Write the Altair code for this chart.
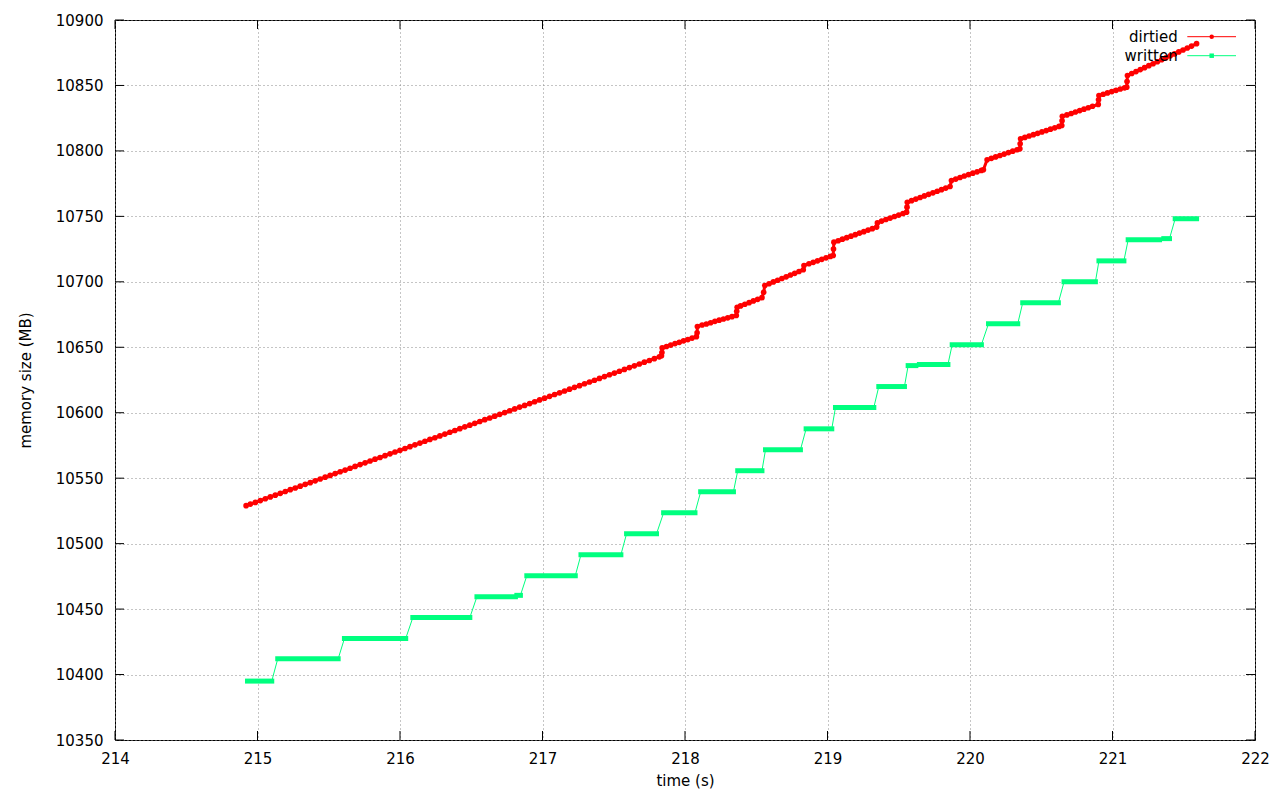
import altair as alt
import pandas as pd

RED = "#ff0000"
GREEN = "#00ff7f"
FONT = "DejaVu Sans"

# ---- dirtied series (time s, memory MB) ----
dirtied_t = [
    214.92, 214.95, 214.985, 215.02, 215.055, 215.09, 215.125, 215.16, 215.195, 215.23,
    215.265, 215.30, 215.335, 215.37, 215.405, 215.44, 215.475, 215.51, 215.545, 215.58,
    215.615, 215.65, 215.685, 215.72, 215.755, 215.79, 215.825, 215.86, 215.895, 215.93,
    215.965, 216.00, 216.035, 216.07, 216.105, 216.14, 216.175, 216.21, 216.245, 216.28,
    216.315, 216.35, 216.385, 216.42, 216.455, 216.49, 216.525, 216.56, 216.595, 216.63,
    216.665, 216.70, 216.735, 216.77, 216.805, 216.84, 216.875, 216.91, 216.945, 216.98,
    217.015, 217.05, 217.085, 217.12, 217.155, 217.19, 217.225, 217.26, 217.295, 217.33,
    217.365, 217.40, 217.435, 217.47, 217.505, 217.54, 217.575, 217.61, 217.645, 217.68,
    217.715, 217.75, 217.785, 217.82,
    217.835, 217.838, 217.84, 217.87, 217.90, 217.93, 217.96, 217.99, 218.02, 218.05, 218.08,
    218.085, 218.087, 218.12, 218.15, 218.18, 218.21, 218.24, 218.27, 218.30, 218.33, 218.36,
    218.363, 218.366, 218.39, 218.42, 218.45, 218.48, 218.51, 218.54,
    218.552, 218.56, 218.59, 218.62, 218.65, 218.68, 218.71, 218.74, 218.77, 218.80, 218.83,
    218.835, 218.87, 218.90, 218.93, 218.96, 218.99, 219.02, 219.04,
    219.042, 219.045, 219.075, 219.105, 219.135, 219.165, 219.195, 219.225, 219.255, 219.285,
    219.315, 219.345,
    219.35, 219.38, 219.41, 219.44, 219.47, 219.50, 219.53, 219.555,
    219.558, 219.56, 219.59, 219.62, 219.65, 219.68, 219.71, 219.74, 219.77, 219.80, 219.83, 219.86,
    219.87, 219.90, 219.93, 219.96, 219.99, 220.02, 220.05, 220.08, 220.094,
    220.12, 220.15, 220.18, 220.21, 220.24, 220.27, 220.30, 220.33, 220.35,
    220.352, 220.355, 220.385, 220.415, 220.445, 220.475, 220.505, 220.535, 220.565, 220.595,
    220.625, 220.644,
    220.646, 220.648, 220.68, 220.71, 220.74, 220.77, 220.80, 220.83, 220.86, 220.90,
    220.902, 220.905, 220.935, 220.965, 220.995, 221.025, 221.055, 221.085, 221.10,
    221.102, 221.105, 221.135, 221.165, 221.195, 221.225, 221.255, 221.285, 221.315, 221.345,
    221.375, 221.405, 221.435, 221.465, 221.495, 221.525, 221.555, 221.59,
]
dirtied_mb = [
    10529.0, 10530.2, 10531.5, 10532.9, 10534.3, 10535.7, 10537.0, 10538.4, 10539.8, 10541.2,
    10542.5, 10543.9, 10545.3, 10546.6, 10548.0, 10549.4, 10550.8, 10552.1, 10553.5, 10554.9,
    10556.2, 10557.6, 10559.0, 10560.4, 10561.7, 10563.1, 10564.5, 10565.8, 10567.2, 10568.6,
    10570.0, 10571.3, 10572.7, 10574.1, 10575.5, 10576.8, 10578.2, 10579.6, 10580.9, 10582.3,
    10583.7, 10585.1, 10586.4, 10587.8, 10589.2, 10590.5, 10591.9, 10593.3, 10594.7, 10596.0,
    10597.4, 10598.8, 10600.1, 10601.5, 10602.9, 10604.3, 10605.6, 10607.0, 10608.4, 10609.8,
    10611.1, 10612.5, 10613.9, 10615.2, 10616.6, 10618.0, 10619.4, 10620.7, 10622.1, 10623.5,
    10624.8, 10626.2, 10627.6, 10629.0, 10630.3, 10631.7, 10633.1, 10634.5, 10635.8, 10637.2,
    10638.6, 10639.9, 10641.3, 10642.7,
    10643.5, 10646.0, 10649.5, 10650.6, 10651.7, 10652.8, 10653.8, 10654.9, 10655.9, 10657.0, 10658.1,
    10661.0, 10665.9, 10667.0, 10667.8, 10668.7, 10669.8, 10670.7, 10671.6, 10672.5, 10673.4, 10674.3,
    10677.5, 10680.6, 10681.6, 10682.9, 10684.1, 10685.4, 10686.6, 10687.9,
    10692.0, 10697.2, 10698.5, 10699.9, 10701.2, 10702.5, 10703.8, 10705.2, 10706.5, 10707.9, 10709.2,
    10712.5, 10713.8, 10714.9, 10716.0, 10717.2, 10718.3, 10719.4, 10720.1,
    10725.0, 10730.3, 10731.4, 10732.6, 10733.7, 10734.9, 10736.0, 10737.2, 10738.3, 10739.5,
    10740.6, 10741.8,
    10745.0, 10746.4, 10747.6, 10748.7, 10749.9, 10751.0, 10752.2, 10753.2,
    10757.0, 10760.8, 10762.0, 10763.2, 10764.4, 10765.6, 10766.8, 10768.0, 10769.2, 10770.4, 10771.6, 10772.8,
    10777.4, 10778.5, 10779.7, 10780.8, 10781.9, 10783.0, 10784.0, 10785.1, 10785.6,
    10793.2, 10794.3, 10795.4, 10796.5, 10797.6, 10798.7, 10799.8, 10800.9, 10801.6,
    10805.5, 10809.3, 10810.3, 10811.4, 10812.4, 10813.4, 10814.5, 10815.5, 10816.6, 10817.6,
    10818.7, 10819.4,
    10823.0, 10826.5, 10827.5, 10828.6, 10829.7, 10830.8, 10831.9, 10833.0, 10834.1, 10835.5,
    10839.0, 10842.3, 10843.3, 10844.3, 10845.3, 10846.3, 10847.3, 10848.2, 10848.7,
    10853.0, 10857.6, 10859.1, 10860.6, 10862.1, 10863.6, 10865.1, 10866.6, 10868.1, 10869.6,
    10871.1, 10872.6, 10874.1, 10875.6, 10877.1, 10878.6, 10880.1, 10881.9,
]

# ---- written series: plateaus (start time, end time, level MB) ----
written_start = [214.93, 215.142, 215.61, 216.09, 216.54, 216.82, 216.89, 217.27, 217.59, 217.85,
                 218.11, 218.37, 218.565, 218.85, 219.056, 219.36, 219.566, 219.645, 219.875, 220.13,
                 220.37, 220.66, 220.905, 221.11, 221.36, 221.44]
written_end = [215.10, 215.566, 216.04, 216.49, 216.81, 216.845, 217.23, 217.55, 217.80, 218.07,
               218.34, 218.54, 218.81, 219.03, 219.325, 219.54, 219.62, 219.845, 220.08, 220.335,
               220.62, 220.88, 221.08, 221.33, 221.40, 221.59]
written_level = [10395.0, 10412.0, 10427.5, 10443.5, 10459.5, 10460.5, 10475.5, 10491.5, 10507.5, 10523.6,
                 10539.6, 10555.7, 10571.7, 10587.7, 10604.0, 10620.0, 10636.0, 10636.8, 10652.0, 10668.0,
                 10684.0, 10700.0, 10716.0, 10732.1, 10733.0, 10748.2]

x_ticks = [214, 215, 216, 217, 218, 219, 220, 221, 222]
y_ticks = [10350, 10400, 10450, 10500, 10550, 10600, 10650, 10700, 10750, 10800, 10850, 10900]

W, H = 1140, 720

dirtied = pd.DataFrame({"t": dirtied_t, "mb": dirtied_mb})
plateaus = pd.DataFrame({"t": written_start, "t1": written_end, "mb": written_level})
wl_rows = []
for s, e, v in zip(written_start, written_end, written_level):
    wl_rows.append({"t": s, "mb": v})
    wl_rows.append({"t": e, "mb": v})
written_line = pd.DataFrame(wl_rows)
xt = pd.DataFrame({"t": x_ticks})
yt = pd.DataFrame({"mb": y_ticks})

xs = alt.Scale(domain=[214, 222], nice=False, zero=False)
ys = alt.Scale(domain=[10350, 10900], nice=False, zero=False)

xaxis = alt.Axis(values=x_ticks, format="d", grid=True, gridColor="#8a8a8a", gridDash=[1, 3],
                 gridWidth=1, ticks=False, tickSize=0, domain=False, labelFont=FONT,
                 labelFontSize=15, labelColor="black", labelPadding=18, labelBaseline="middle",
                 labelFlush=False, labelOverlap=False, title="time (s)", titleFont=FONT,
                 titleFontSize=15, titleFontWeight="normal", titleColor="black",
                 titleX=570, titleY=45, titleBaseline="alphabetic", titleAlign="center")
yaxis = alt.Axis(values=y_ticks, format="d", grid=True, gridColor="#8a8a8a", gridDash=[1, 3],
                 gridWidth=1, ticks=False, tickSize=0, domain=False, labelFont=FONT,
                 labelFontSize=15, labelColor="black", labelPadding=12, labelBaseline="middle",
                 labelFlush=False, labelOverlap=False, title="memory size (MB)", titleFont=FONT,
                 titleFontSize=15, titleFontWeight="normal", titleColor="black",
                 titleX=-90, titleY=360, titleAngle=270, titleBaseline="middle", titleAlign="center")

X = alt.X("t:Q", scale=xs, axis=xaxis)
Y = alt.Y("mb:Q", scale=ys, axis=yaxis)

# inward ticks on all four sides
tick_l = alt.Chart(yt).mark_rule(color="black", strokeWidth=1).encode(y=Y, x=alt.value(0), x2=alt.value(9))
tick_r = alt.Chart(yt).mark_rule(color="black", strokeWidth=1).encode(y=Y, x=alt.value(W - 9), x2=alt.value(W))
tick_b = alt.Chart(xt).mark_rule(color="black", strokeWidth=1).encode(x=X, y=alt.value(H), y2=alt.value(H - 9))
tick_t = alt.Chart(xt).mark_rule(color="black", strokeWidth=1).encode(x=X, y=alt.value(0), y2=alt.value(9))

d_line = alt.Chart(dirtied).mark_line(color=RED, strokeWidth=3).encode(x=X, y=Y, order="t:Q")
d_pts = alt.Chart(dirtied).mark_circle(color=RED, size=32, opacity=1).encode(x=X, y=Y)

w_line = alt.Chart(written_line).mark_line(color=GREEN, strokeWidth=1).encode(x=X, y=Y, order="t:Q")
w_plat = alt.Chart(plateaus).mark_rule(color=GREEN, strokeWidth=5, strokeCap="square").encode(
    x=X, x2="t1:Q", y=Y)

# gnuplot-style key (label left of sample)
leg_d = pd.DataFrame({"label": ["dirtied"]})
leg_w = pd.DataFrame({"label": ["written"]})
ky1, ky2 = 16.7, 35.7
kx_text, kx0, kx1, kxm = 1062.7, 1072.3, 1121, 1096.7
key = [
    alt.Chart(leg_d).mark_text(align="right", baseline="middle", font=FONT, fontSize=15, color="black")
        .encode(text="label:N", x=alt.value(kx_text), y=alt.value(ky1)),
    alt.Chart(leg_d).mark_rule(color=RED, strokeWidth=1)
        .encode(x=alt.value(kx0), x2=alt.value(kx1), y=alt.value(ky1)),
    alt.Chart(leg_d).mark_point(shape="circle", filled=True, color=RED, size=20, opacity=1)
        .encode(x=alt.value(kxm), y=alt.value(ky1)),
    alt.Chart(leg_w).mark_text(align="right", baseline="middle", font=FONT, fontSize=15, color="black")
        .encode(text="label:N", x=alt.value(kx_text), y=alt.value(ky2)),
    alt.Chart(leg_w).mark_rule(color=GREEN, strokeWidth=1)
        .encode(x=alt.value(kx0), x2=alt.value(kx1), y=alt.value(ky2)),
    alt.Chart(leg_w).mark_point(shape="square", filled=True, color=GREEN, size=20, opacity=1)
        .encode(x=alt.value(kxm), y=alt.value(ky2)),
]

chart = alt.layer(
    d_line, d_pts, w_line, w_plat, tick_l, tick_r, tick_b, tick_t, *key
).properties(
    width=W, height=H,
    padding={"left": 107, "top": 12, "right": 16, "bottom": 51},
    autosize=alt.AutoSizeParams(type="none"),
    background="white",
).configure_view(stroke="black", strokeWidth=1)

chart.save("out.html", embed_options={"renderer": "svg", "actions": False})
